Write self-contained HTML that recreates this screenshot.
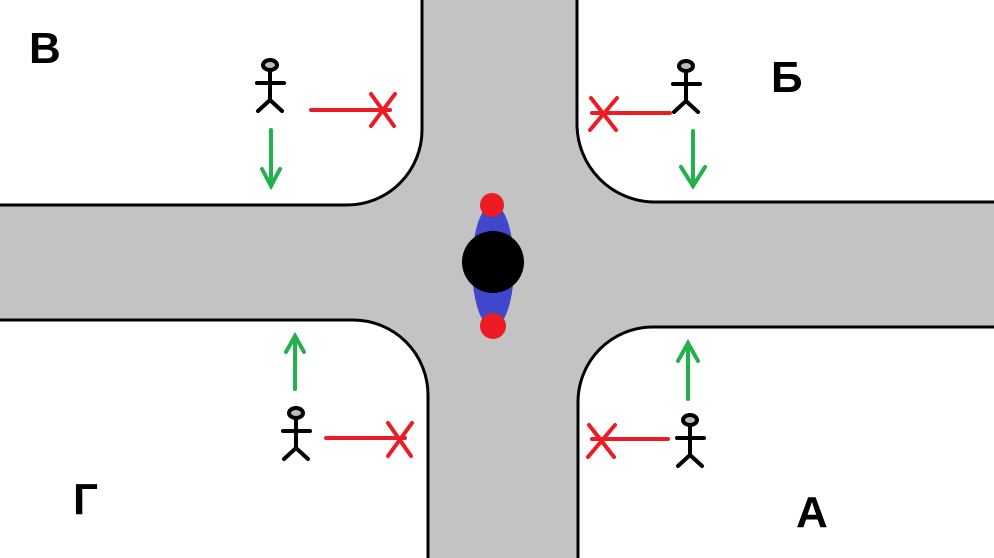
<!DOCTYPE html>
<html><head><meta charset="utf-8"><style>html,body{margin:0;padding:0;background:#c3c3c3}svg{display:block}</style></head><body>
<svg width="994" height="558" viewBox="0 0 994 558" xmlns="http://www.w3.org/2000/svg">
<rect width="994" height="558" fill="#c3c3c3"/>
<g fill="#fff" stroke="#000" stroke-width="3">
<path d="M-5,-5 H422 V130 A75,75 0 0 1 347,205 H-5 Z"/>
<path d="M999,-5 H577 V124 A78,78 0 0 0 655,202 H999 Z"/>
<path d="M-5,563 H428 V395 A75,75 0 0 0 353,320 H-5 Z"/>
<path d="M999,563 H578 V402 A75,75 0 0 1 653,327 H999 Z"/>
</g>
<defs>
<g id="fig" stroke="#000" stroke-width="4" stroke-linecap="round" fill="none">
<ellipse cx="0" cy="0" rx="7" ry="5" fill="#bbb"/>
<line x1="0" y1="6" x2="0" y2="35"/>
<line x1="-13" y1="18" x2="14" y2="18"/>
<line x1="0" y1="35" x2="-12" y2="46"/>
<line x1="0" y1="35" x2="12" y2="46"/>
</g>
</defs>
<use href="#fig" x="270" y="65"/>
<use href="#fig" x="686" y="66"/>
<use href="#fig" x="296" y="413"/>
<use href="#fig" x="690" y="420"/>
<g stroke="#ed1c24" stroke-width="4" stroke-linecap="round" fill="none">
<line x1="311" y1="110" x2="390" y2="110"/><line x1="371" y1="94" x2="394" y2="126"/><line x1="395" y1="94" x2="371" y2="126"/>
<line x1="670" y1="113" x2="592" y2="113"/><line x1="591" y1="98" x2="616" y2="130"/><line x1="617" y1="98" x2="590" y2="130"/>
<line x1="326" y1="438" x2="405" y2="438"/><line x1="388" y1="423" x2="411" y2="456"/><line x1="412" y1="423" x2="388" y2="456"/>
<line x1="668" y1="439" x2="592" y2="439"/><line x1="589" y1="425" x2="614" y2="457"/><line x1="615" y1="425" x2="588" y2="457"/>
</g>
<g stroke="#22b14c" stroke-width="4" stroke-linecap="round" fill="none">
<line x1="271" y1="130" x2="271" y2="186"/><polyline points="262,169 271,186 280,169"/>
<line x1="693" y1="131" x2="693" y2="186"/><polyline points="681,167 693,186 705,167"/>
<line x1="295" y1="389" x2="295" y2="336"/><polyline points="286,352 295,336 304,352"/>
<line x1="688" y1="399" x2="688" y2="343"/><polyline points="678,361 688,343 698,361"/>
</g>
<ellipse cx="493" cy="266" rx="21" ry="62" fill="#3f48cc"/>
<circle cx="492" cy="205" r="12" fill="#ed1c24"/>
<circle cx="493" cy="326" r="13" fill="#ed1c24"/>
<circle cx="493" cy="262" r="31" fill="#000"/>
<g font-family="Liberation Sans, DejaVu Sans, sans-serif" font-weight="bold" font-size="44" fill="#000">
<text x="29" y="63">В</text>
<text x="771" y="92">Б</text>
<text x="73" y="514">Г</text>
<text x="796" y="527">А</text>
</g>
</svg>
</body></html>
